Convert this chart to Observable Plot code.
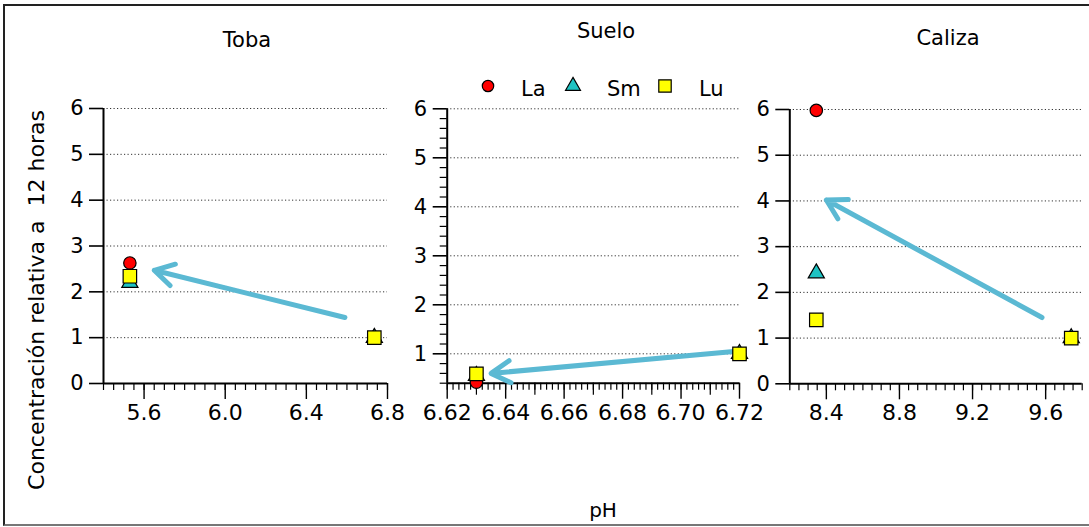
<!DOCTYPE html>
<html>
<head>
<meta charset="utf-8">
<script src="https://cdn.jsdelivr.net/npm/d3@7"></script>
<script src="https://cdn.jsdelivr.net/npm/@observablehq/plot@0.6"></script>
<style>
  body { margin: 0; background: #fff; overflow: hidden; }
  #chart { position: relative; width: 1089px; height: 527px; overflow: hidden;
           font-family: "DejaVu Sans", sans-serif; color: #000; background: #fff; }
  #chart svg.panel { position: absolute; left: 0; top: 0; }
  .lbl { position: absolute; transform: translate(-50%, -50%); white-space: pre; line-height: 1; }
  #frame { position: absolute; left: 3px; top: 4px; width: 1100px; height: 518px;
           border-top: 2px solid #222; border-left: 2px solid #222; border-bottom: 2px solid #777; }
</style>
</head>
<body>
<div id="chart"><div id="frame"></div></div>
<script>
// ---------- data ----------
const elements = ["La", "Sm", "Lu"];
const panelNames = ["Toba", "Suelo", "Caliza"];

const phToba = [5.53, 6.735];
const laToba = [2.63, 1.0];
const smToba = [2.2, 1.0];
const luToba = [2.34, 1.0];

const phSuelo = [6.63, 6.72];
const laSuelo = [0.42, 1.0];
const smSuelo = [0.55, 1.0];
const luSuelo = [0.59, 1.0];

const phCaliza = [8.345, 9.74];
const laCaliza = [5.98, 1.0];
const smCaliza = [2.42, 1.0];
const luCaliza = [1.40, 1.0];

// arrows (pH, concentration) from -> to
const arrowX1 = [6.59, 6.719, 9.58];
const arrowY1 = [1.44, 1.05, 1.45];
const arrowX2 = [5.65, 6.635, 8.40];
const arrowY2 = [2.47, 0.60, 4.02];

// axes
const xDomains = [[5.4, 6.8], [6.62, 6.72], [8.2, 9.8]];
const yDomains = [[0, 6], [0.4, 6], [0, 6]];
const xTickValues = [[5.6, 6.0, 6.4, 6.8], [6.62, 6.64, 6.66, 6.68, 6.70, 6.72], [8.4, 8.8, 9.2, 9.6]];
const xTickFormats = [".1f", ".2f", ".1f"];
const yTickValues = [[0, 1, 2, 3, 4, 5, 6], [1, 2, 3, 4, 5, 6], [0, 1, 2, 3, 4, 5, 6]];
const gridValues = [1, 2, 3, 4, 5, 6];

const yTitle = "Concentración relativa a  12 horas";
const xTitle = "pH";

// ---------- layout ----------
const W = 1089, H = 527;
const frames = [
  {l: 103, r: 387, t: 108, b: 383},
  {l: 446.7, r: 739, t: 108.3, b: 382.7},
  {l: 789.3, r: 1081.7, t: 109, b: 383.3}
];
const titlePos = [[247, 40], [606, 31], [948, 38]];
const colors = {La: "#ff0000", Sm: "#1fc3c3", Lu: "#ffff00"};
const symbols = {La: "circle", Sm: "triangle", Lu: "square"};
const radii = {La: 6.2, Sm: 6.0, Lu: 7.6};
const arrowColor = "#5bb9d3";

const series = [
  {ph: phToba, La: laToba, Sm: smToba, Lu: luToba},
  {ph: phSuelo, La: laSuelo, Sm: smSuelo, Lu: luSuelo},
  {ph: phCaliza, La: laCaliza, Sm: smCaliza, Lu: luCaliza}
];

function minorX(i) {
  const [a, b] = xDomains[i];
  const step = i === 1 ? 0.002 : 0.05;
  const n = Math.round((b - a) / step);
  return d3.range(0, n + 1).map(k => +(a + k * step).toFixed(4));
}
function mediumX(i) {
  if (i !== 1) return [];
  return [6.63, 6.65, 6.67, 6.69, 6.71];
}
function minorY(i) {
  if (i !== 1) return [];
  return d3.range(2, 31).map(k => +(k * 0.2).toFixed(2)).filter(v => Math.abs(v - Math.round(v)) > 1e-6);
}

const chart = document.getElementById("chart");

series.forEach((s, i) => {
  const f = frames[i];
  const rows = elements.map(el => s.ph.map((p, j) => ({el, ph: p, c: s[el][j]})));
  const arrow = [{x1: arrowX1[i], y1: arrowY1[i], x2: arrowX2[i], y2: arrowY2[i]}];
  const svg = Plot.plot({
    width: W, height: H,
    marginLeft: f.l, marginRight: W - f.r, marginTop: f.t, marginBottom: H - f.b,
    x: {domain: xDomains[i], axis: null},
    y: {domain: yDomains[i], axis: null},
    style: {background: "transparent", overflow: "visible", fontFamily: "DejaVu Sans, sans-serif", color: "#000"},
    marks: [
      Plot.ruleY(gridValues, {stroke: "#333", strokeWidth: 1, strokeDasharray: "1.2,2.3"}),
      Plot.axisX({ticks: minorX(i), tickSize: 7, tickFormat: () => "", strokeWidth: 1.2}),
      Plot.axisX({ticks: mediumX(i), tickSize: 12, tickFormat: () => "", strokeWidth: 1.2}),
      Plot.axisX({ticks: xTickValues[i], tickSize: 16, tickPadding: 5, fontSize: 22,
                  tickFormat: d3.format(xTickFormats[i]), strokeWidth: 1.4}),
      Plot.axisY({ticks: minorY(i), tickSize: 7, tickFormat: () => "", strokeWidth: 1.2}),
      Plot.axisY({ticks: yTickValues[i], tickSize: 14, tickPadding: 6, fontSize: 21,
                  tickFormat: d => String(d), strokeWidth: 1.6}),
      Plot.ruleX([xDomains[i][0]], {stroke: "#000", strokeWidth: 2}),
      Plot.ruleY([yDomains[i][0]], {stroke: "#000", strokeWidth: 2}),
      Plot.arrow(arrow, {x1: "x1", y1: "y1", x2: "x2", y2: "y2", stroke: arrowColor,
                         strokeWidth: 5, headLength: 6.6, headAngle: 60}),
      ...rows.map((r, k) => Plot.dot(r, {x: "ph", y: "c", symbol: symbols[elements[k]],
                         r: radii[elements[k]], fill: colors[elements[k]], stroke: "#000", strokeWidth: 1.2}))
    ]
  });
  svg.classList.add("panel");
  chart.appendChild(svg);

  const t = document.createElement("div");
  t.className = "lbl";
  t.style.left = titlePos[i][0] + "px";
  t.style.top = titlePos[i][1] + "px";
  t.style.fontSize = "21px";
  t.textContent = panelNames[i];
  chart.appendChild(t);
});

// legend
const legendSym = [488, 573, 665];
const legendText = [521, 607, 699];
elements.forEach((el, k) => {
  const ns = "http://www.w3.org/2000/svg";
  const sv = document.createElementNS(ns, "svg");
  sv.setAttribute("width", 24); sv.setAttribute("height", 24);
  sv.style.position = "absolute";
  sv.style.left = (legendSym[k] - 12) + "px";
  sv.style.top = (86 - 12) + "px";
  const p = document.createElementNS(ns, "path");
  const symType = {circle: d3.symbolCircle, triangle: d3.symbolTriangle, square: d3.symbolSquare}[symbols[el]];
  p.setAttribute("d", d3.symbol(symType, Math.PI * radii[el] * radii[el] * 0.85)());
  p.setAttribute("transform", "translate(12,12)");
  p.setAttribute("fill", colors[el]);
  p.setAttribute("stroke", "#000");
  p.setAttribute("stroke-width", 1.2);
  sv.appendChild(p);
  chart.appendChild(sv);
  const tx = document.createElement("div");
  tx.style.position = "absolute";
  tx.style.left = legendText[k] + "px";
  tx.style.top = "89px";
  tx.style.lineHeight = "1";
  tx.style.transform = "translateY(-50%)";
  tx.style.fontSize = "21px";
  tx.textContent = el;
  chart.appendChild(tx);
});

// axis titles
const yl = document.createElement("div");
yl.className = "lbl";
yl.style.left = "37px"; yl.style.top = "300px";
yl.style.fontSize = "22px";
yl.style.transform = "translate(-50%, -50%) rotate(-90deg)";
yl.textContent = yTitle;
chart.appendChild(yl);

const xl = document.createElement("div");
xl.className = "lbl";
xl.style.left = "603px"; xl.style.top = "510px";
xl.style.fontSize = "20px";
xl.textContent = xTitle;
chart.appendChild(xl);
</script>
</body>
</html>
